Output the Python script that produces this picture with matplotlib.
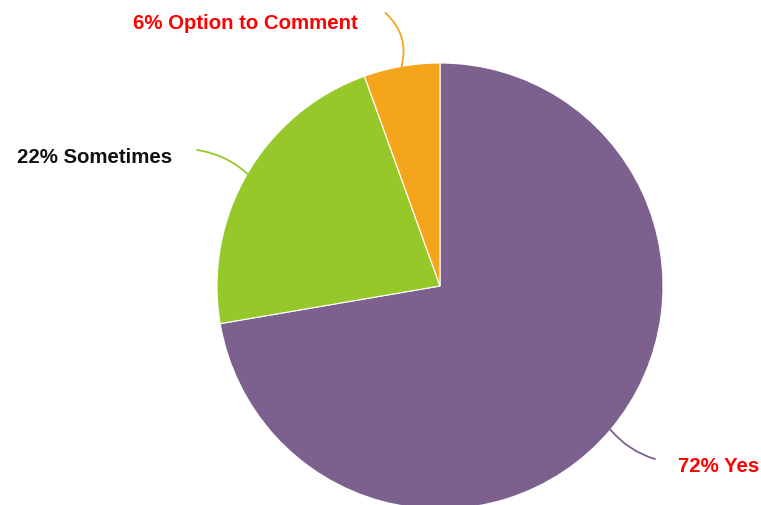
import numpy as np
from matplotlib import pyplot as plt

labels = ['Yes', 'Sometimes', 'Option to Comment']
shown_pct = [72, 22, 6]
values = [72.3, 22.2, 5.5]
colors = ['#7c608e', '#97c82a', '#f5a51c']
label_colors = ['#ff0000', '#111111', '#ff0000']

fig = plt.figure(figsize=(7.61, 5.06), dpi=100)
W, H = 761, 506
cx, cy, r = 440, 287, 223
ax = fig.add_axes([(cx - r) / W, (H - cy - r) / H, 2 * r / W, 2 * r / H])

wedges, _ = ax.pie(values, colors=colors, startangle=90, counterclock=False,
                   wedgeprops=dict(edgecolor='white', linewidth=0.8))
ax.set_xlim(-1, 1)
ax.set_ylim(-1, 1)
ax.set_aspect('equal')
ax.axis('off')

# leader line end, text anchor, curvature (data coords, radius = 1)
ends = [(0.964, -0.776), (-1.09, 0.61), (-0.245, 1.225)]
texts = [(1.067, -0.805, 'left'), (-1.20, 0.58, 'right'), (-0.367, 1.18, 'right')]
rads = [-0.15, -0.15, -0.3]

for w, name, p, c, lc, e, t, rad in zip(wedges, labels, shown_pct, colors,
                                         label_colors, ends, texts, rads):
    mid = np.deg2rad((w.theta1 + w.theta2) / 2)
    start = (np.cos(mid), np.sin(mid))
    ax.annotate('', xy=start, xytext=e,
                arrowprops=dict(arrowstyle='-', color=c, lw=1.3,
                                connectionstyle=f'arc3,rad={rad}',
                                shrinkA=0, shrinkB=0),
                annotation_clip=False)
    ax.text(t[0], t[1], f'{p}% {name}', ha=t[2], va='center', color=lc,
            fontsize=14.7, fontweight='bold', family='Liberation Sans',
            clip_on=False)

fig.savefig('out.png', dpi=100)
